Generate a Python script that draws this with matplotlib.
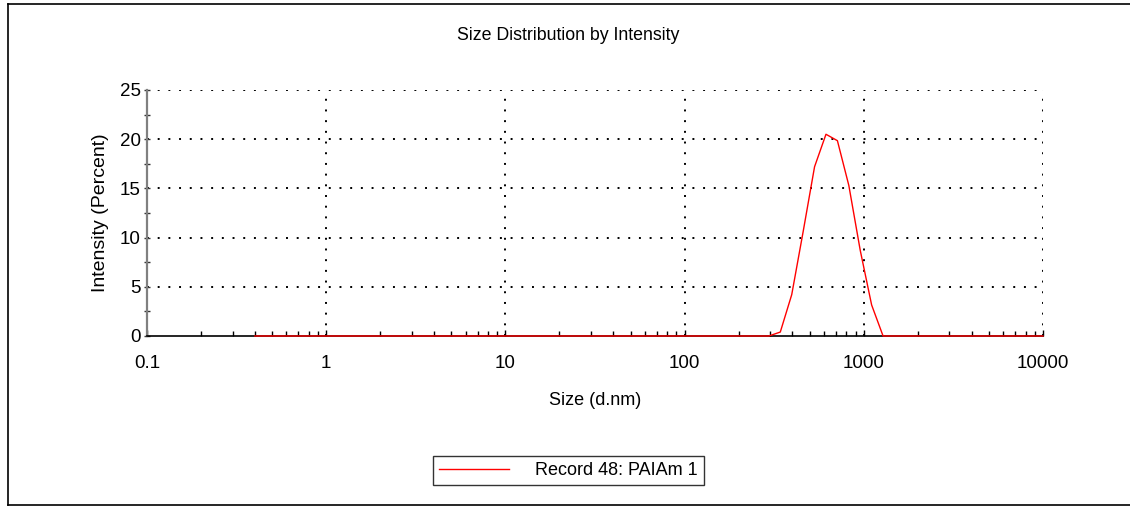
import numpy as np
import matplotlib
matplotlib.use('Agg')
import matplotlib.pyplot as plt
from matplotlib.lines import Line2D
from matplotlib.ticker import FixedLocator, NullFormatter

plt.rcParams['font.family'] = ['Liberation Sans', 'DejaVu Sans']

# size classes (d.nm) and intensity (%)
sizes = [0.4, 0.4632, 0.5365, 0.6213, 0.7195, 0.8332, 0.9649,
         1.117, 1.294, 1.499, 1.736, 2.01, 2.328, 2.696, 3.122, 3.615, 4.187, 4.849, 5.615, 6.503, 7.531, 8.721,
         10.1, 11.7, 13.54, 15.69, 18.17, 21.04, 24.36, 28.21, 32.67, 37.84, 43.82, 50.75, 58.77, 68.06, 78.82, 91.28,
         105.7, 122.4, 141.8, 164.2, 190.1, 220.2, 255.0, 295.3, 342.0, 396.1, 458.7, 531.2, 615.1, 712.4, 825.0, 955.4,
         1106, 1281, 1484, 1718, 1990, 2305, 2669, 3091, 3580, 4145, 4801, 5560, 6439, 7456, 8635, 10000]
intensity = [0, 0, 0, 0, 0, 0, 0,
             0, 0, 0, 0, 0, 0, 0, 0, 0, 0, 0, 0, 0, 0, 0,
             0, 0, 0, 0, 0, 0, 0, 0, 0, 0, 0, 0, 0, 0, 0, 0,
             0, 0, 0, 0, 0, 0, 0, 0, 0.4, 4.2, 10.6, 17.2, 20.5, 19.85, 15.3, 8.7,
             3.15, 0, 0, 0, 0, 0, 0, 0, 0, 0, 0, 0, 0, 0, 0, 0]

title = 'Size Distribution by Intensity'
xlabel = 'Size (d.nm)'
ylabel = 'Intensity (Percent)'
series_name = 'Record 48: PAIAm 1'
xticks = [0.1, 1, 10, 100, 1000, 10000]
xticklabels = ['0.1', '1', '10', '100', '1000', '10000']
yticks = [0, 5, 10, 15, 20, 25]

fig = plt.figure(figsize=(11.3, 5.07), dpi=100)
ax = fig.add_axes([0.1301, 0.3373, 0.7929, 0.4852])

ln, = ax.plot(sizes, intensity, color='#ff0000', lw=1.0, zorder=3, clip_on=False)

ax.set_xscale('log')
ax.set_xlim(0.1, 10000)
ax.set_ylim(0, 25)

dot = (0, (1, 4.5))
for x in xticks[1:]:
    ax.axvline(x, color='black', lw=1.4, ls=dot, zorder=0)
for y in yticks[1:]:
    ax.axhline(y, color='black', lw=1.4, ls=dot, zorder=0)

ax.set_xticks(xticks)
ax.set_xticklabels(xticklabels)
minors = [m * 10.0 ** e for e in range(-1, 4) for m in range(2, 10)]
ax.xaxis.set_minor_locator(FixedLocator(minors))
ax.xaxis.set_minor_formatter(NullFormatter())
ax.tick_params(axis='x', which='major', direction='in', length=4, width=1, labelsize=13.5, pad=14)
ax.tick_params(axis='x', which='minor', direction='in', length=3.5, width=1)

ax.set_yticks(yticks)
ax.yaxis.set_minor_locator(FixedLocator([2.5, 7.5, 12.5, 17.5, 22.5]))
ax.tick_params(axis='y', which='both', direction='inout', length=5, width=1, labelsize=13.5, pad=2,
               color='#333333')

for s in ['top', 'right']:
    ax.spines[s].set_visible(False)
ax.spines['left'].set_color('#808080')
ax.spines['left'].set_linewidth(1.6)
ax.spines['bottom'].set_color('black')
ax.spines['bottom'].set_linewidth(1.2)

ax.set_xlabel(xlabel, fontsize=13, labelpad=14)
ax.set_ylabel(ylabel, fontsize=14, labelpad=8)

fig.text(0.503, 1 - 36 / 507, title, ha='center', va='center', fontsize=12.8)

leg = fig.legend([ln], [series_name], loc='center', bbox_to_anchor=(0.5027, 1 - 470.5 / 507),
                 fontsize=13, frameon=True, fancybox=False, handlelength=3.9, handletextpad=1.4,
                 borderpad=0.35, borderaxespad=0)
leg.get_frame().set_edgecolor('black')
leg.get_frame().set_linewidth(1.0)

# outer frame
W, H = 1130, 507
fx = 8 / W
fig.add_artist(Line2D([fx, fx], [1 - 4 / H, 1 - 505 / H], transform=fig.transFigure, color='black', lw=1.2))
fig.add_artist(Line2D([fx, 1], [1 - 4 / H, 1 - 4 / H], transform=fig.transFigure, color='black', lw=1.2))
fig.add_artist(Line2D([fx, 1], [1 - 505 / H, 1 - 505 / H], transform=fig.transFigure, color='black', lw=1.2))

fig.savefig('out.png', dpi=100)
